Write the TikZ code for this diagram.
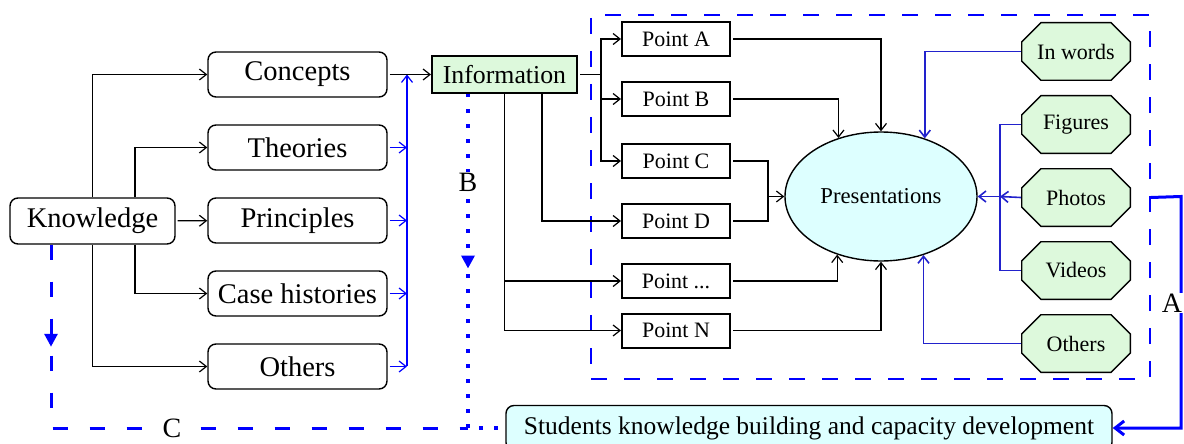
\documentclass[tikz,border=0pt]{standalone}
\usepackage{fontspec}
\setmainfont{Liberation Serif}
\usepackage{tikz}
\usetikzlibrary{positioning, shapes.geometric, arrows.meta, decorations.markings}
\definecolor{infogreen}{HTML}{DDF9DC}
\definecolor{prescyan}{HTML}{DDFFFF}
\definecolor{linkblue}{HTML}{2222CC}

\begin{document}
\begin{tikzpicture}[x=1pt, y=-1pt, node distance=73pt,
    rbox/.style = {draw, rounded corners=8pt, line width=1.4pt, minimum width=179pt, minimum height=45pt, inner sep=0pt, font=\fontsize{28.5}{30}\selectfont},
    pbox/.style = {draw, line width=2pt, minimum width=108pt, minimum height=34pt, inner sep=0pt, font=\fontsize{22}{24}\selectfont},
    oct/.style = {minimum width=110pt, minimum height=59pt, inner sep=0pt, font=\fontsize{22}{24}\selectfont,
        path picture={\draw[line width=1.4pt, fill=infogreen]
            ([shift={(20pt,-0.7pt)}]path picture bounding box.north west) -- ([shift={(-20pt,-0.7pt)}]path picture bounding box.north east)
            -- ([shift={(-0.7pt,-20pt)}]path picture bounding box.north east) -- ([shift={(-0.7pt,20pt)}]path picture bounding box.south east)
            -- ([shift={(-20pt,0.7pt)}]path picture bounding box.south east) -- ([shift={(20pt,0.7pt)}]path picture bounding box.south west)
            -- ([shift={(0.7pt,20pt)}]path picture bounding box.south west) -- ([shift={(0.7pt,-20pt)}]path picture bounding box.north west) -- cycle;}},
    arr/.style = {-{Straight Barb[length=7pt,width=11pt]}, line width=1.2pt},
    barr/.style = {arr, blue},
    larr/.style = {arr, linkblue, line width=1.6pt},
    lbl/.style = {fill=white, inner sep=1pt, font=\fontsize{28}{30}\selectfont}]
    \useasboundingbox (0,0) rectangle (1184,444);

    \node[draw, blue, line width=1.8pt, dash pattern=on 16pt off 17pt, minimum width=559pt, minimum height=364pt] (frame) at (870.5,197) {};

    \node[rbox, minimum width=165pt, minimum height=46pt] (K) at (92.5,221) {Knowledge};
    \node[rbox] (conc) at (297.5,74.5) {Concepts};
    \node[rbox] (theo) [below of=conc] {Theories};
    \node[rbox] (prin) [below of=theo] {Principles};
    \node[rbox] (case) [below of=prin] {Case histories};
    \node[rbox] (oth) [below of=case] {Others};

    \node[pbox, fill=infogreen, minimum width=145pt, minimum height=37pt, font=\fontsize{25.8}{27}\selectfont] (info) at (504.5,74.5) {Information};

    \node[pbox] (pa) at (676,39) {Point A};
    \node[pbox] (pb) [below of=pa, node distance=60pt] {Point B};
    \node[pbox] (pc) [below of=pb, node distance=62pt] {Point C};
    \node[pbox] (pd) [below of=pc, node distance=60pt] {Point D};
    \node[pbox] (pdots) [below of=pd, node distance=60pt] {Point ...};
    \node[pbox] (pn) [below of=pdots, node distance=49.5pt] {Point N};

    \node[draw, ellipse, fill=prescyan, line width=1.4pt, minimum width=192pt, minimum height=129pt, inner sep=0pt, font=\fontsize{22.7}{24}\selectfont] (pres) at (881,196.5) {Presentations};

    \node[oct] (iw) at (1076,51.5) {In words};
    \node[oct] (fig) [below of=iw] {Figures};
    \node[oct] (pho) [below of=fig] {Photos};
    \node[oct] (vid) [below of=pho] {Videos};
    \node[oct] (ot) [below of=vid] {Others};

    \node[draw, rounded corners=8pt, fill=prescyan, line width=1.4pt, minimum width=606pt, minimum height=45pt, font=\fontsize{25.5}{27}\selectfont] (stu) at (809,428) {Students knowledge building and capacity development};

    \coordinate (bt) at (407,74.5);
    \coordinate (bb) at (407,366);
    \coordinate (ij) at (601,74.5);
    \coordinate (cd) at (768,196.5);
    \coordinate (fv) at (1000,196.5);
    \coordinate (ra) at (1181,196.5);
    \coordinate (jn) at (468,428);

    \draw[arr] (K.north) |- (conc.west);
    \draw[arr] ([xshift=42.5pt]K.north) |- (theo.west);
    \draw[arr, shorten <=2pt] (K) -- (prin);
    \draw[arr] ([xshift=42.5pt]K.south) |- (case.west);
    \draw[arr] (K.south) |- (oth.west);

    \draw[barr, shorten <=2pt] (theo.east) -- (theo.east -| bt);
    \draw[barr, shorten <=2pt] (prin.east) -- (prin.east -| bt);
    \draw[barr, shorten <=2pt] (case.east) -- (case.east -| bt);
    \draw[barr, shorten <=2pt] (oth.east) -- (oth.east -| bt);
    \draw[barr] (bb) -- (bt);
    \draw[arr, shorten <=2pt] (conc) -- (info);

    \draw[line width=1.2pt, shorten <=2pt] (info.east) -- (ij);
    \draw[arr] (ij) |- (pa.west);
    \draw[arr] (ij) |- (pb.west);
    \draw[arr] (ij) |- (pc.west);
    \draw[arr] ([xshift=37.5pt]info.south) |- (pd.west);
    \draw[arr] (info.south) |- (pn.west);
    \draw[arr] (info.south |- pdots) -- (pdots.west);

    \draw[arr, shorten <=2pt] (pa.east) -| (pres.north);
    \draw[arr, shorten <=2pt] (pb.east) -| (pres.126.7);
    \draw[line width=1.2pt, shorten <=2pt] (pc.east) -| (cd);
    \draw[line width=1.2pt, shorten <=2pt] (pd.east) -| (cd);
    \draw[arr] (cd) -- (pres.west);
    \draw[arr, shorten <=2pt] (pdots.east) -| (pres.233.3);
    \draw[arr, shorten <=2pt] (pn.east) -| (pres.south);

    \draw[larr] (iw.west) -| (pres.53.3);
    \draw[larr] (ot.west) -| (pres.306.7);
    \draw[linkblue, line width=1.6pt] (fig.west) -| (fv);
    \draw[linkblue, line width=1.6pt] (vid.west) -| (fv);
    \draw[larr] (pho.west) -- (fv);
    \draw[larr] (fv) -- (pres.east);

    \draw[blue, line width=3pt, -{Straight Barb[length=9pt,width=14pt]}] (pho -| frame.east) -- (ra) |- (stu.east);
    \node[lbl] (A) at (1172,303) {A};

    \draw[blue, line width=3pt, dash pattern=on 15pt off 22pt,
        postaction={decorate, decoration={markings, mark=at position 0.17 with {\arrow{Triangle[length=13pt,width=13pt]}}}}]
        ([xshift=-41.5pt]K.south) |- (jn);
    \node[lbl] (C) at (172,428) {C};

    \draw[blue, line width=4pt, dash pattern=on 3.5pt off 11.5pt,
        postaction={decorate, decoration={markings, mark=at position 0.47 with {\arrow{Triangle[length=13pt,width=13pt]}}}}]
        ([xshift=-36.5pt]info.south) -- (jn) -- (stu.west |- jn);
    \node[lbl] (B) at (468,182) {B};
\end{tikzpicture}
\end{document}
